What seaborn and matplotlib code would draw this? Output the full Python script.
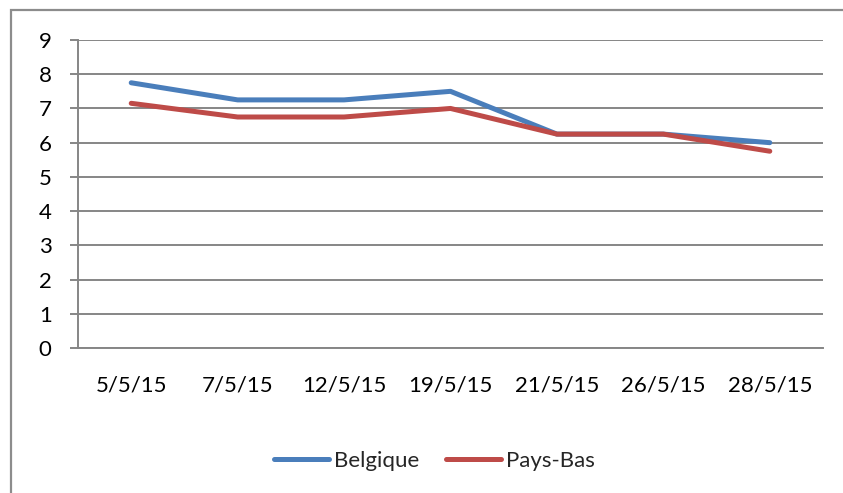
import matplotlib
matplotlib.use("Agg")
import matplotlib.pyplot as plt
import seaborn as sns
import pandas as pd
from matplotlib.patches import Rectangle
from matplotlib.lines import Line2D

dates = ["5/5/15", "7/5/15", "12/5/15", "19/5/15", "21/5/15", "26/5/15", "28/5/15"]
belgique = [7.75, 7.25, 7.25, 7.5, 6.25, 6.25, 6.0]
pays_bas = [7.15, 6.75, 6.75, 7.0, 6.25, 6.25, 5.75]
series_names = ["Belgique", "Pays-Bas"]
y_ticks = list(range(0, 10))

sns.set_theme(style="white")
plt.rcParams["font.family"] = ["Lato", "DejaVu Sans"]

df = pd.DataFrame({
    "date": dates * 2,
    "pos": list(range(len(dates))) * 2,
    "value": belgique + pays_bas,
    "serie": [series_names[0]] * len(dates) + [series_names[1]] * len(dates),
})

fig = plt.figure(figsize=(8.43, 4.93), dpi=100)
ax = fig.add_axes([78 / 843, 1 - 348 / 493, (823 - 78) / 843, (348 - 40) / 493])

palette = {"Belgique": "#4A7EBB", "Pays-Bas": "#BE4B48"}
sns.lineplot(data=df, x="pos", y="value", hue="serie", palette=palette,
             linewidth=3.6, ax=ax, legend=False, sort=False,
             solid_capstyle="round", solid_joinstyle="round")

grid_c = "#868686"
fs = 16
ax.set_ylim(0, 9)
ax.set_xlim(-0.5, len(dates) - 0.5)
ax.set_yticks(y_ticks)
ax.set_yticklabels([str(t) for t in y_ticks])
ax.yaxis.grid(True, color=grid_c, linewidth=1.4)
ax.xaxis.grid(False)
ax.set_axisbelow(True)

ax.set_xticks(range(len(dates)))
ax.set_xticklabels(dates)
ax.set_xticks([i - 0.5 for i in range(len(dates) + 1)], minor=True)
ax.tick_params(axis="x", which="major", length=0, pad=20, labelsize=fs, colors="black")
ax.tick_params(axis="x", which="minor", length=6, width=1.4, color=grid_c, direction="out")
ax.tick_params(axis="y", which="major", length=6, width=1.4, color=grid_c, direction="out",
               pad=13, labelsize=fs, labelcolor="black", left=True)
ax.set_xlabel("")
ax.set_ylabel("")

for s in ["top", "right"]:
    ax.spines[s].set_visible(False)
for s in ["left", "bottom"]:
    ax.spines[s].set_color(grid_c)
    ax.spines[s].set_linewidth(1.4)

# chart frame (outer border)
fig.patches.append(Rectangle((11 / 843, -0.05), 1.1, 1 - 10 / 493 + 0.05,
                             transform=fig.transFigure, fill=False,
                             edgecolor="#8c8c8c", linewidth=1.6))

handles = [Line2D([], [], color=palette[n], linewidth=3.6, solid_capstyle="round") for n in series_names]
fig.legend(handles, series_names, loc="center", bbox_to_anchor=(0.515, 1 - 461 / 493),
           ncol=2, frameon=False, handlelength=2.5, handletextpad=0.2,
           columnspacing=1.2, fontsize=fs)

fig.savefig("out.png", dpi=100)
